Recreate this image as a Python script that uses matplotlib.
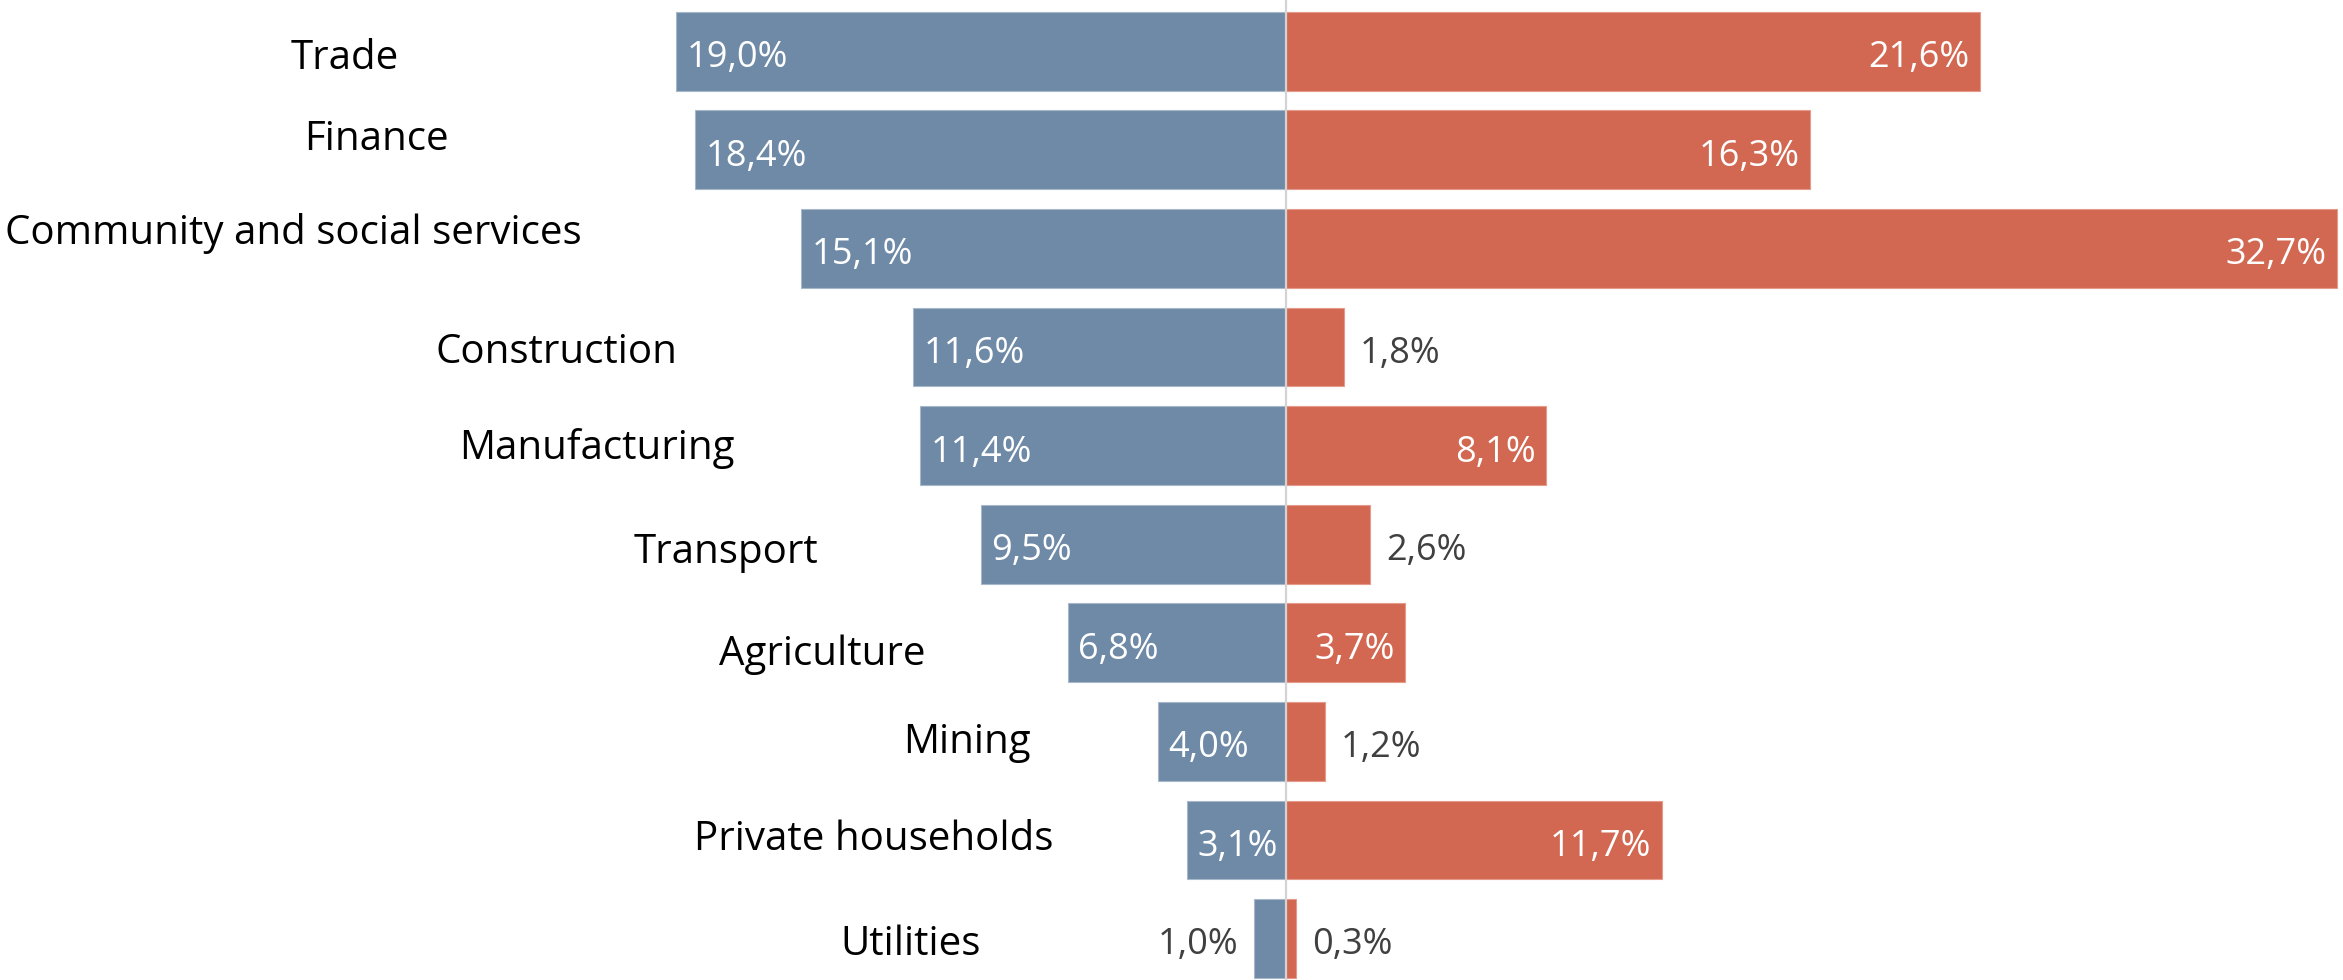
import matplotlib
matplotlib.use("Agg")
import matplotlib.pyplot as plt

plt.rcParams['font.family'] = ['Open Sans', 'DejaVu Sans']

categories = ["Trade", "Finance", "Community and social services", "Construction",
              "Manufacturing", "Transport", "Agriculture", "Mining",
              "Private households", "Utilities"]
left_vals = [19.0, 18.4, 15.1, 11.6, 11.4, 9.5, 6.8, 4.0, 3.1, 1.0]
right_vals = [21.6, 16.3, 32.7, 1.8, 8.1, 2.6, 3.7, 1.2, 11.7, 0.3]

# where the category names sit (centre x in data units, y nudge in bar units)
label_x = [-29.3, -28.3, -30.9, -22.7, -21.45, -17.45, -14.45, -9.95, -12.85, -11.7]
label_dy = [0.015, -0.16, -0.21, 0.0, -0.03, 0.03, 0.06, -0.05, -0.06, 0.0]

blue = "#6f8aa7"
red = "#d26852"

fig = plt.figure(figsize=(23.43, 9.8), dpi=100)
ax = fig.add_axes([0, 0, 1, 1])

y = list(range(len(categories)))
ax.barh(y, [-v for v in left_vals], height=0.8, color=blue, edgecolor="#a8b8cb", linewidth=0.8)
ax.barh(y, right_vals, height=0.8, color=red, edgecolor="#e59a8a", linewidth=0.8)
ax.axvline(0, color="#d3d3d3", lw=1.6, zorder=3)

ax.set_xlim(-40.03, 32.89)
ax.set_ylim(9.42, -0.52)
ax.axis("off")

pad = 0.33
for i in y:
    ax.text(label_x[i], i + label_dy[i] + 0.06, categories[i], ha="center", va="center",
            fontsize=29, color="black")
    lv = left_vals[i]
    txt = f"{lv:.1f}%".replace(".", ",")
    if lv >= 2.5:
        ax.text(-lv + pad, i + 0.07, txt, ha="left", va="center", fontsize=26, color="white")
    else:
        ax.text(-lv - 0.5, i + 0.07, txt, ha="right", va="center", fontsize=26, color="#404040")
    rv = right_vals[i]
    txt = f"{rv:.1f}%".replace(".", ",")
    if rv >= 3.0:
        ax.text(rv - pad, i + 0.07, txt, ha="right", va="center", fontsize=26, color="white")
    else:
        ax.text(rv + 0.5, i + 0.07, txt, ha="left", va="center", fontsize=26, color="#404040")

fig.savefig("out.png", dpi=100)
